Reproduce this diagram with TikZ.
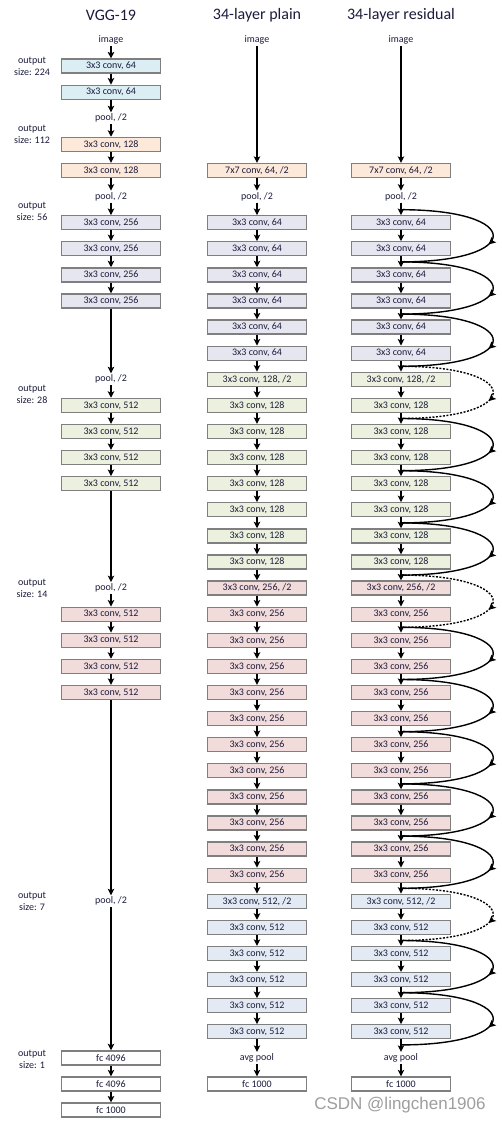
\documentclass[tikz,border=0pt]{standalone}
\usepackage{fontspec}
\setmainfont{Carlito}
\newfontfamily\wmfont{Liberation Sans}
\usetikzlibrary{arrows.meta,decorations.markings,calc}
\definecolor{cblue}{HTML}{DAEEF3}
\definecolor{corange}{HTML}{FDE9D9}
\definecolor{clav}{HTML}{E6E6F0}
\definecolor{cgreen}{HTML}{EBF1DE}
\definecolor{cpink}{HTML}{F2DCDB}
\definecolor{csteel}{HTML}{E4EAF4}
\definecolor{cborder}{HTML}{7F7F7F}
\definecolor{ctxt}{HTML}{1C1C3C}
\newcommand{\rowy}[1]{40+26.1*(#1)}
\begin{document}
\begin{tikzpicture}[x=1pt,y=-1pt,
  box/.style={draw=cborder, line width=1.3pt, minimum width=99pt, minimum height=14pt, inner sep=0pt, text=ctxt, font=\fontsize{10}{12}\selectfont},
  lbl/.style={inner sep=1.5pt, text=ctxt, font=\fontsize{10}{12}\selectfont, align=center},
  ttl/.style={inner sep=0pt, text=ctxt, font=\fontsize{16}{19}\selectfont},
  arr/.style={-{Stealth[length=6.5pt,width=6.5pt,inset=1.5pt]}, line width=1.4pt},
  resarc/.style={line width=1.4pt, postaction={decorate},
    decoration={markings, mark=at position 0.55 with {\arrow{Stealth[length=7pt,width=7pt,inset=1.5pt]}}}},
  resarcdash/.style={resarc, dash pattern=on 2pt off 1.5pt}
]
\useasboundingbox[fill=white] (0,0) rectangle (502,1124);

% titles
\node[ttl] (t1) at (111,15) {VGG-19};
\node[ttl] (t2) at (257,15) {34-layer plain};
\node[ttl] (t3) at (401,15) {34-layer residual};

% output size labels
\node[lbl] (o1) at (32,66) {output\\size: 224};
\node[lbl] (o2) at (32,134) {output\\size: 112};
\node[lbl] (o3) at (32,211) {output\\size: 56};
\node[lbl] (o4) at (32,394) {output\\size: 28};
\node[lbl] (o5) at (32,588) {output\\size: 14};
\node[lbl] (o6) at (32,901) {output\\size: 7};
\node[lbl] (o7) at (32,1059) {output\\size: 1};

% VGG-19
\node[lbl] (v0) at (111,{\rowy{0}}) {image};
\node[box,fill=cblue] (v1) at (111,{\rowy{1}}) {3x3 conv, 64};
\node[box,fill=cblue] (v2) at (111,{\rowy{2}}) {3x3 conv, 64};
\node[lbl] (v3) at (111,{\rowy{3}}) {pool, /2};
\node[box,fill=corange] (v4) at (111,{\rowy{4}}) {3x3 conv, 128};
\node[box,fill=corange] (v5) at (111,{\rowy{5}}) {3x3 conv, 128};
\node[lbl] (v6) at (111,{\rowy{6}}) {pool, /2};
\foreach \k in {7,...,10} {\node[box,fill=clav] (v\k) at (111,{\rowy{\k}}) {3x3 conv, 256};}
\node[lbl] (v13) at (111,{\rowy{13}}) {pool, /2};
\foreach \k in {14,...,17} {\node[box,fill=cgreen] (v\k) at (111,{\rowy{\k}}) {3x3 conv, 512};}
\node[lbl] (v21) at (111,{\rowy{21}}) {pool, /2};
\foreach \k in {22,...,25} {\node[box,fill=cpink] (v\k) at (111,{\rowy{\k}}) {3x3 conv, 512};}
\node[lbl] (v33) at (111,{\rowy{33}}) {pool, /2};
\node[box,fill=white] (v39) at (111,{\rowy{39}}) {fc 4096};
\node[box,fill=white] (v40) at (111,{\rowy{40}}) {fc 4096};
\node[box,fill=white] (v41) at (111,{\rowy{41}}) {fc 1000};

\foreach \a/\b in {0/1,1/2,2/3,3/4,4/5,5/6,6/7,7/8,8/9,9/10,10/13,13/14,14/15,15/16,16/17,17/21,21/22,22/23,23/24,24/25,25/33,33/39,39/40,40/41}
  {\draw[arr] (v\a) -- (v\b);}

% plain and residual columns
\foreach \cx/\c in {257/p,401/r} {
  \node[lbl] (\c0) at (\cx,{\rowy{0}}) {image};
  \node[box,fill=corange] (\c5) at (\cx,{\rowy{5}}) {7x7 conv, 64, /2};
  \node[lbl] (\c6) at (\cx,{\rowy{6}}) {pool, /2};
  \foreach \k in {7,...,12} {\node[box,fill=clav] (\c\k) at (\cx,{\rowy{\k}}) {3x3 conv, 64};}
  \node[box,fill=cgreen] (\c13) at (\cx,{\rowy{13}}) {3x3 conv, 128, /2};
  \foreach \k in {14,...,20} {\node[box,fill=cgreen] (\c\k) at (\cx,{\rowy{\k}}) {3x3 conv, 128};}
  \node[box,fill=cpink] (\c21) at (\cx,{\rowy{21}}) {3x3 conv, 256, /2};
  \foreach \k in {22,...,32} {\node[box,fill=cpink] (\c\k) at (\cx,{\rowy{\k}}) {3x3 conv, 256};}
  \node[box,fill=csteel] (\c33) at (\cx,{\rowy{33}}) {3x3 conv, 512, /2};
  \foreach \k in {34,...,38} {\node[box,fill=csteel] (\c\k) at (\cx,{\rowy{\k}}) {3x3 conv, 512};}
  \node[lbl] (\c39) at (\cx,{\rowy{39}}) {avg pool};
  \node[box,fill=white] (\c40) at (\cx,{\rowy{40}}) {fc 1000};
  \draw[arr] (\c0) -- (\c5);
  \foreach \k [evaluate=\k as \n using int(\k+1)] in {5,...,39} {\draw[arr] (\c\k) -- (\c\n);}
}

% residual shortcuts
\foreach \k in {7,9,...,39} {\coordinate (j\k) at (401,{\rowy{\k}-13});}
\foreach \k [evaluate=\k as \n using int(\k+2)] in {7,9,11,15,17,19,23,25,27,29,31,35,37}
  {\draw[resarc] (j\k) .. controls +(123,0) and +(123,0) .. (j\n);}
\foreach \k [evaluate=\k as \n using int(\k+2)] in {13,21,33}
  {\draw[resarcdash] (j\k) .. controls +(123,0) and +(123,0) .. (j\n);}

% watermark
\node[inner sep=0pt, text=black!38, font=\wmfont\fontsize{17}{20}\selectfont] (wm) at (400,1105) {CSDN @lingchen1906};
\end{tikzpicture}
\end{document}
